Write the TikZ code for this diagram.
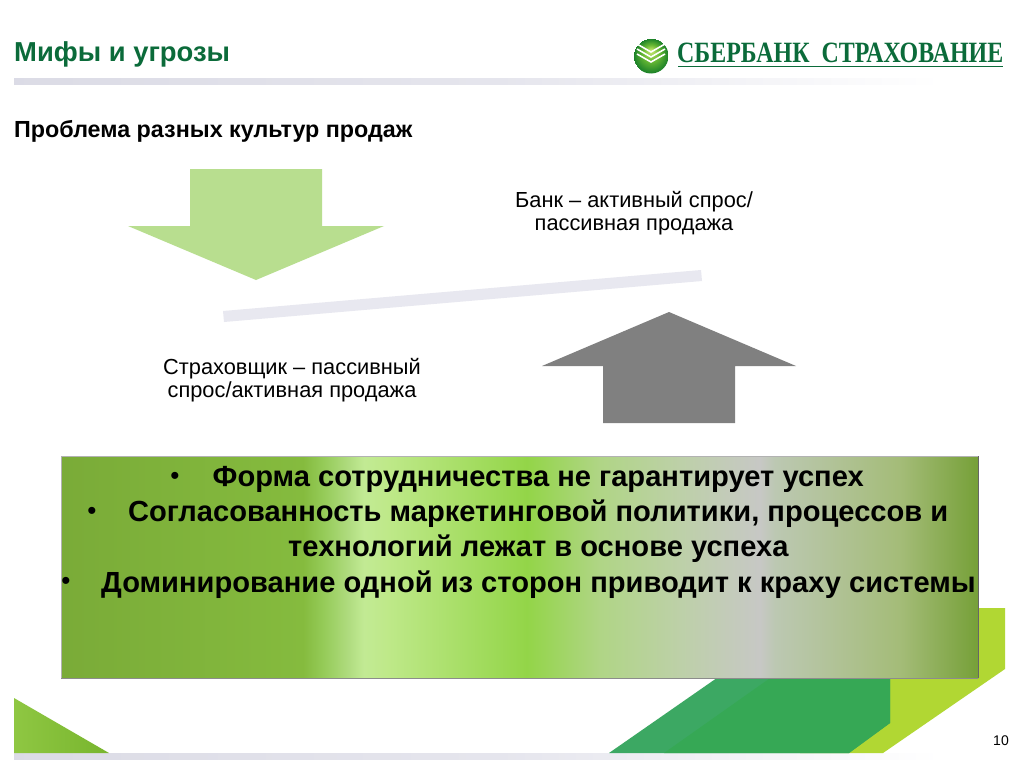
\documentclass[tikz,border=0pt]{standalone}
\usepackage{fontspec}
\usepackage{graphicx}
\setmainfont{Liberation Sans}
\newfontfamily\logofont{Liberation Serif}
\definecolor{titlegreen}{HTML}{0B6B3A}
\definecolor{lightarrow}{HTML}{B8DE8F}
\definecolor{greyarrow}{HTML}{808080}
\definecolor{barfill}{HTML}{E8E8F0}
\definecolor{limefill}{HTML}{B1D733}
\definecolor{greenA}{HTML}{3CA863}
\definecolor{greenB}{HTML}{36A855}
\definecolor{b0}{HTML}{7AAB38}
\definecolor{b1}{HTML}{85BB3E}
\definecolor{b2}{HTML}{95CB58}
\definecolor{b3}{HTML}{B0DC80}
\definecolor{b4}{HTML}{C2EA94}
\definecolor{b5}{HTML}{BFE98A}
\definecolor{b6}{HTML}{93D548}
\definecolor{b7}{HTML}{B0D586}
\definecolor{b8}{HTML}{BDD0A8}
\definecolor{b9}{HTML}{C7C8C5}
\definecolor{b10}{HTML}{BCC8B2}
\definecolor{b11}{HTML}{A4BC78}
\definecolor{b12}{HTML}{76A038}
\pgfdeclarehorizontalshading{boxshade}{100bp}{
  color(0bp)=(b0);
  color(25bp)=(b0);
  color(38.2bp)=(b1);
  color(39.3bp)=(b2);
  color(40.7bp)=(b3);
  color(41.5bp)=(b4);
  color(42.7bp)=(b5);
  color(50.41bp)=(b6);
  color(54.4bp)=(b7);
  color(58.75bp)=(b8);
  color(63.11bp)=(b9);
  color(63.93bp)=(b10);
  color(70.75bp)=(b11);
  color(75bp)=(b12);
  color(100bp)=(b12)}
\pgfdeclarehorizontalshading{fadebarshade}{100bp}{
  rgb(0bp)=(0.86,0.86,0.90);
  rgb(25bp)=(0.86,0.86,0.90);
  rgb(50bp)=(0.90,0.90,0.93);
  rgb(72bp)=(1,1,1);
  rgb(100bp)=(1,1,1)}
\pgfdeclarehorizontalshading{triangleshade}{100bp}{
  rgb(0bp)=(0.56,0.78,0.26);
  rgb(25bp)=(0.56,0.78,0.26);
  rgb(75bp)=(0.47,0.71,0.18);
  rgb(100bp)=(0.47,0.71,0.18)}
\pgfdeclareradialshading{ballshade}{\pgfpoint{0bp}{8bp}}{
  rgb(0bp)=(0.80,0.92,0.45);
  rgb(12bp)=(0.40,0.72,0.20);
  rgb(25bp)=(0.10,0.50,0.16)}
\tikzset{
  titletext/.style={font=\bfseries\fontsize{27.4}{31}\selectfont,text=titlegreen,anchor=west,inner sep=0pt},
  subtext/.style={font=\bfseries\fontsize{23.3}{27}\selectfont,anchor=west,inner sep=0pt},
  plaintext/.style={font=\fontsize{21.8}{23.5}\selectfont,align=center,inner sep=0pt},
  boldline/.style={font=\bfseries\fontsize{29.1}{33}\selectfont,anchor=west,inner sep=0pt},
  bulletmark/.style={font=\fontsize{26}{30}\selectfont,inner sep=0pt},
  logotext/.style={text=titlegreen,anchor=west,inner sep=0pt}
}
\begin{document}
\begin{tikzpicture}[x=1pt,y=-1pt]
\useasboundingbox (0,0) rectangle (1024,768);
\fill[white] (0,0) rectangle (1024,768);
% decorations
\shade[shading=fadebarshade] (14,78) rectangle (1000,84);
\shade[shading=fadebarshade] (14,753) rectangle (1000,759);
\shade[shading=triangleshade] (14,698) -- (14,753) -- (109,753) -- cycle;
\fill[limefill] (880,608) -- (1005,608) -- (1005,669) -- (883,753) -- (800,753) -- cycle;
\fill[greenA] (609,753) -- (760,648) -- (890,648) -- (890,723) -- (849,753) -- cycle;
\fill[greenB] (664,753) -- (790,664) -- (890,664) -- (890,723) -- (849,753) -- cycle;
% arrows and beam
\fill[lightarrow] (190,169) -- (322,169) -- (322,226) -- (384,226) -- (256,280) -- (128,226) -- (190,226) -- cycle;
\fill[greyarrow] (603,423) -- (735,423) -- (735,366) -- (796,366) -- (669,312) -- (542,366) -- (603,366) -- cycle;
\fill[barfill] (223,311) -- (701,270) -- (702,281) -- (224,322) -- cycle;
% box
\shade[shading=boxshade] (61,456) rectangle (978,678);
\draw[black!30,line width=0.5pt] (61,678) -- (61,456) -- (978,456);
\draw[black!45,line width=0.6pt] (61,678) -- (978,678);
\draw[black!60,line width=0.6pt] (978,678) -- (978,456);
% logo
\shade[shading=ballshade] (651,56) circle (17.5);
\foreach \d in {0,5,10}{
  \draw[white,line width=1.6pt] (637,{44+\d}) -- (651,{52+\d}) -- (665,{44+\d});
}
\node[logotext] (logo) at (677,53) {\resizebox{326pt}{19.5pt}{\logofont\bfseries СБЕРБАНК\ \ СТРАХОВАНИЕ}};
\draw[titlegreen,line width=1.5pt] (678,66.5) -- (1003,66.5);
% texts
\node[titletext] (title) at (14,54) {Мифы и угрозы};
\node[subtext] (sub) at (14,131) {Проблема разных культур продаж};
\node[plaintext] (bank) at (634,213) {Банк – активный спрос/\\пассивная продажа};
\node[plaintext] (insurer) at (292,380) {Страховщик – пассивный\\спрос/активная продажа};
\node[bulletmark] (b1) at (175,478) {•};
\node[boldline] (l1) at (212.5,479.5) {Форма сотрудничества не гарантирует успех};
\node[bulletmark] (b2) at (92,513) {•};
\node[boldline] (l2) at (128,513.5) {Согласованность маркетинговой политики, процессов и};
\node[boldline] (l3) at (288,548.5) {технологий лежат в основе успеха};
\node[bulletmark] (b3) at (66,583) {•};
\node[boldline] (l4) at (101,584.5) {Доминирование одной из сторон приводит к краху системы};
\node[font=\fontsize{14}{16}\selectfont,inner sep=0pt] (num) at (1001,741) {10};
\end{tikzpicture}
\end{document}
